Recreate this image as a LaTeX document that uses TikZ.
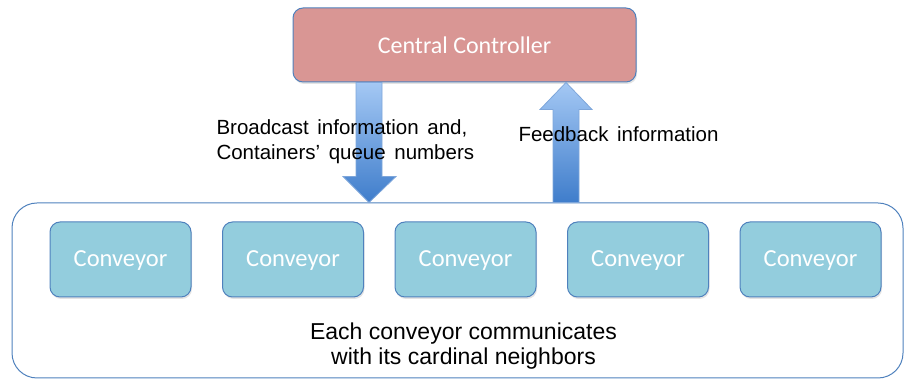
\documentclass[tikz,border=0pt]{standalone}
\usepackage{fontspec}
\setmainfont{Liberation Sans}
\newfontfamily\boxfont{Carlito}
\usetikzlibrary{positioning,calc,shadows}
\definecolor{cCtrl}{HTML}{D99694}
\definecolor{cConv}{HTML}{93CDDD}
\definecolor{cEdge}{HTML}{4F81BD}
\definecolor{cArrTop}{HTML}{A4C8F4}
\definecolor{cArrBot}{HTML}{3F7DCB}
\definecolor{cArrLine}{HTML}{7EA6DA}
\newcommand\annfont{\fontsize{20.5}{25}\selectfont\spaceskip 0.42em\relax}
\tikzset{
  every picture/.style={line width=1pt},
  softshadow/.style={drop shadow={opacity=0.22, shadow xshift=1pt, shadow yshift=-2pt}},
  ctrlbox/.style={draw=cEdge, fill=cCtrl, rounded corners=10pt, softshadow,
                  minimum width=343, minimum height=74, text=white,
                  font=\boxfont\fontsize{24}{28}\selectfont},
  convbox/.style={draw=cEdge, fill=cConv, rounded corners=10pt, softshadow,
                  minimum width=141, minimum height=75, text=white, text depth=1pt,
                  font=\boxfont\fontsize{24.5}{28}\selectfont},
  groupbox/.style={draw=cEdge, rounded corners=25pt, minimum width=891, minimum height=175},
  ann/.style={font=\annfont, align=left, inner sep=0pt},
  bigarrow/.style={draw=cArrLine, line width=0.8pt, top color=cArrTop, bottom color=cArrBot},
}

\begin{document}
\begin{tikzpicture}[x=1pt,y=1pt]
\useasboundingbox (0,0) rectangle (906,379);

% ================================================== the conveyor group
\node[groupbox] (group) at (457.5,88.5) {};
\node[convbox] (c1) at (120.5,119.5) {Conveyor};
\foreach \i [remember=\i as \j (initially 1)] in {2,...,5}
  \node[convbox, right=30.5 of c\j] (c\i) {Conveyor};
\node[font=\fontsize{23}{25}\selectfont, align=center] (note) at (463.5,32.5)
      {Each conveyor communicates\\with its cardinal neighbors};

% ================================================== the controller
\node[ctrlbox] (ctrl) at (464.5,334) {Central Controller};

% ================================================== block arrows
\coordinate (dx) at (369,0);
\coordinate (ux) at (566,0);
\shade[bigarrow]
  ($(dx |- ctrl.south)+(-13,0)$) -- ($(dx |- ctrl.south)+(13,0)$)
  -- ($(dx |- group.north)+(13,26)$) -- ($(dx |- group.north)+(27,26)$)
  -- (dx |- group.north) -- ($(dx |- group.north)+(-26,26)$)
  -- ($(dx |- group.north)+(-13,26)$) -- cycle;
\shade[bigarrow]
  ($(ux |- group.north)+(-13,0)$) -- ($(ux |- group.north)+(13,0)$)
  -- ($(ux |- ctrl.south)+(13,-27)$) -- ($(ux |- ctrl.south)+(26,-27)$)
  -- (ux |- ctrl.south) -- ($(ux |- ctrl.south)+(-26,-27)$)
  -- ($(ux |- ctrl.south)+(-13,-27)$) -- cycle;

\node[ann, anchor=west] (bcast) at (216,237)
      {Broadcast information and,\\Containers' queue numbers};
\node[ann, anchor=base west] (fback) at (518,237) {Feedback information};

\end{tikzpicture}
\end{document}
